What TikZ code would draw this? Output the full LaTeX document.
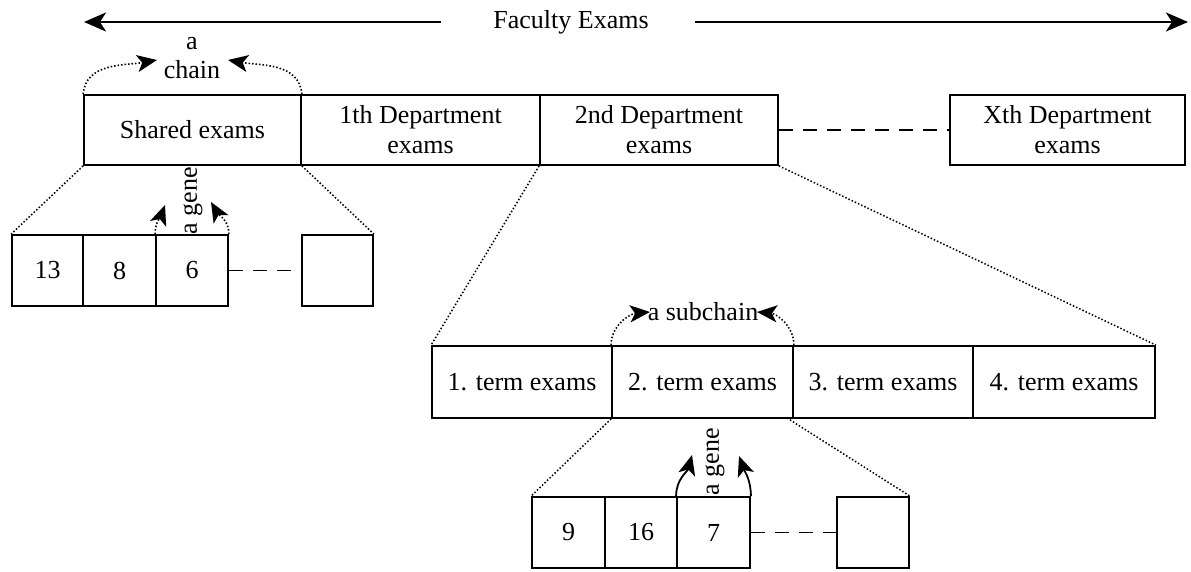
\documentclass[tikz,border=0pt]{standalone}
\usepackage{fontspec}
\setmainfont{Liberation Serif}
\usetikzlibrary{arrows.meta}
\begin{document}
\begin{tikzpicture}[x=1pt,y=-1pt,
  box/.style={draw,line width=1.8pt,rectangle,inner sep=0pt,minimum height=#1,align=center,font=\fontsize{26}{30}\selectfont},
  box/.default=70pt,
  lbl/.style={inner sep=0pt,align=center,font=\fontsize{26}{29}\selectfont},
  zoomline/.style={dash pattern=on 1.5pt off 2pt,line width=1.5pt},
  gap/.style={dash pattern=on 14pt off 10pt,line width=1.8pt},
  tip/.style={-{Stealth[length=20pt,width=17pt,inset=5pt]}},
  dottip/.style={tip,dash pattern=on 1.5pt off 2pt,line width=1.6pt},
  soltip/.style={tip,line width=1.8pt}]
\useasboundingbox (0,0) rectangle (1191,572);

% title span
\node[lbl] (title) at (571,22) {Faculty Exams};
\coordinate (tl) at (84,22);
\coordinate (tr) at (1188,22);
\draw[line width=2.6pt,-{Stealth[length=22pt,width=19pt,inset=6pt]}] (title.west) ++(-52,0) -- (tl);
\draw[line width=2.6pt,-{Stealth[length=22pt,width=19pt,inset=6pt]}] (title.east) ++(46,0) -- (tr);

% department chain
\node[box,minimum width=217pt] (shared) at (192.5,130) {Shared exams};
\node[box,minimum width=239pt] (d1) at (420.5,130) {1th Department\\exams};
\node[box,minimum width=238pt] (d2) at (659,130) {2nd Department\\exams};
\node[box,minimum width=235pt] (dx) at (1067.5,130) {Xth Department\\exams};
\draw[gap] (d2.east) -- (dx.west);

% chain marker
\node[lbl] (chain) at (192,58) {a\\chain};
\coordinate (chl) at (157,60);
\coordinate (chr) at (228,60);
\draw[dottip] (shared.north west) to[out=85,in=190] (chl);
\draw[dottip] (shared.north east) to[out=95,in=-10] (chr);

% genes of the shared part
\node[box=71pt,minimum width=71pt] (s1) at (47.5,270.5) {13};
\node[box=71pt,minimum width=73pt] (s2) at (119.5,270.5) {8};
\node[box=71pt,minimum width=72pt] (s3) at (192,270.5) {6};
\node[box=71pt,minimum width=71pt] (sn) at (337.5,270.5) {};
\draw[gap] (s3.east) -- (sn.west);
\draw[zoomline] (shared.south west) -- (s1.north west);
\draw[zoomline] (shared.south east) -- (sn.north east);

\node[lbl,rotate=90] (gene1) at (193,201) {a gene};
\coordinate (g1l) at (165,205);
\coordinate (g1r) at (211,202);
\draw[dottip] (s3.north west) to[out=90,in=-110] (g1l);
\draw[dottip] (s3.north east) to[out=90,in=-60] (g1r);

% terms of a department
\node[box=72pt,minimum width=180pt] (t1) at (522,382) {1. term exams};
\node[box=72pt,minimum width=181pt] (t2) at (702.5,382) {2. term exams};
\node[box=72pt,minimum width=180pt] (t3) at (883,382) {3. term exams};
\node[box=72pt,minimum width=182pt] (t4) at (1064,382) {4. term exams};
\draw[zoomline] (d2.south west) -- (t1.north west);
\draw[zoomline] (d2.south east) -- (t4.north east);

\node[lbl] (sub) at (703,312) {a subchain};
\coordinate (sbl) at (650,312);
\coordinate (sbr) at (757,312);
\draw[dottip] (t2.north west) to[out=90,in=185] (sbl);
\draw[dottip] (t2.north east) to[out=90,in=-5] (sbr);

% genes of a term
\node[box=71pt,minimum width=73pt] (u1) at (568.5,532.5) {9};
\node[box=71pt,minimum width=72pt] (u2) at (641,532.5) {16};
\node[box=71pt,minimum width=73pt] (u3) at (713.5,532.5) {7};
\node[box=71pt,minimum width=72pt] (un) at (873,532.5) {};
\draw[gap] (u3.east) -- (un.west);
\coordinate (t2r) at (787,418);
\draw[zoomline] (t2.south west) -- (u1.north west);
\draw[zoomline] (t2r) -- (un.north east);

\node[lbl,rotate=90] (gene2) at (715,462) {a gene};
\coordinate (g2l) at (692,455);
\coordinate (g2r) at (739,456);
\draw[soltip] (u3.north west) to[out=90,in=-105] (g2l);
\draw[soltip] (u3.north east) to[out=90,in=-70] (g2r);
\end{tikzpicture}
\end{document}
